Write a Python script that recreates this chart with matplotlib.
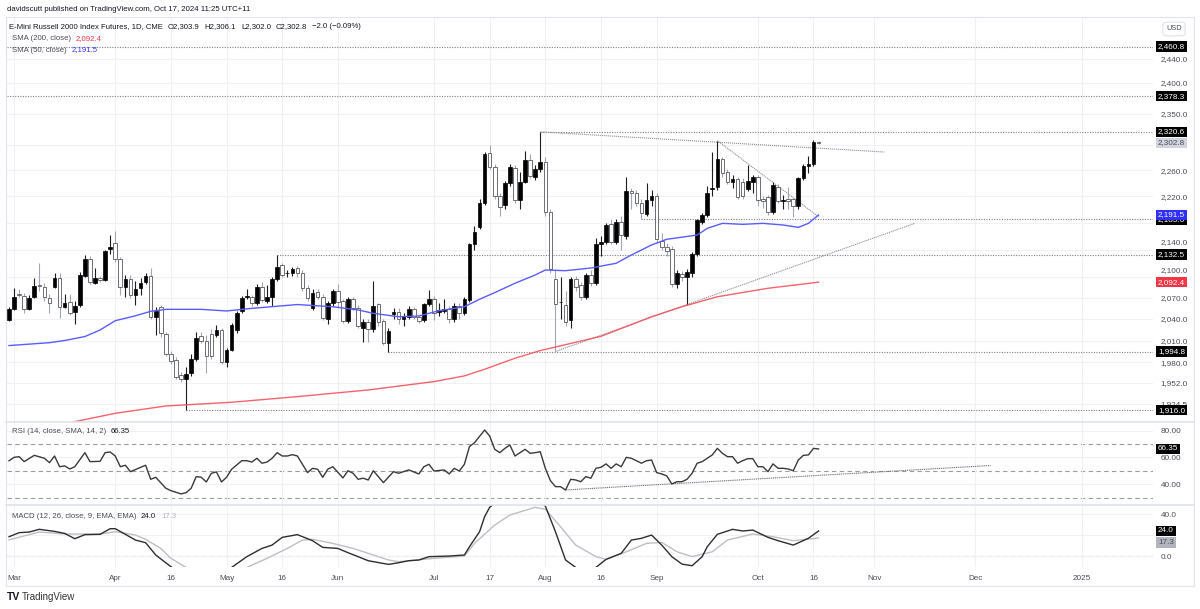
import numpy as np
import pandas as pd
import matplotlib
matplotlib.use("Agg")
import matplotlib.pyplot as plt
import matplotlib.transforms as mtrans
from matplotlib.ticker import FixedLocator, NullLocator, FixedFormatter
from matplotlib.lines import Line2D
from matplotlib.patches import Rectangle

plt.rcParams['font.family'] = ['Liberation Sans', 'DejaVu Sans']

# ---------------- data ----------------
holidays = ['2024-03-29', '2024-05-27', '2024-06-19', '2024-07-04', '2024-09-02',
            '2024-11-28', '2024-12-25', '2025-01-01']
start_date = '2024-02-29'

opens = [2038.6, 2053.6, 2075.8, 2073.0, 2053.6, 2070.6, 2088.0, 2086.0, 2070.1, 2086.0,
         2098.1, 2057.3, 2063.6, 2049.4, 2059.2, 2101.9, 2125.6, 2091.7, 2098.6, 2095.6,
         2140.3, 2149.2, 2125.6, 2086.0, 2097.5, 2074.4, 2084.6, 2092.7, 2101.9, 2043.2,
         2057.3, 2019.1, 1991.4, 1983.2, 1962.4, 1957.0, 1965.1, 1984.6, 2016.3, 2009.8,
         2019.0, 2017.7, 2024.6, 1981.0, 1996.9, 2024.6, 2050.8, 2071.5, 2071.5, 2063.0,
         2086.0, 2065.9, 2071.5, 2096.6, 2117.3, 2105.0, 2105.3, 2112.5, 2105.2, 2083.6,
         2055.9, 2077.9, 2070.6, 2039.9, 2063.0, 2080.2, 2065.4, 2037.2, 2068.2, 2055.0,
         2027.0, 2035.3, 2026.0, 2060.7, 2037.2, 2007.0, 2046.5, 2049.4, 2039.5, 2043.2,
         2053.6, 2042.3, 2038.6, 2060.7, 2068.2, 2050.3, 2051.7, 2054.4, 2039.9, 2058.3,
         2047.9, 2066.9, 2148.2, 2173.9, 2209.1, 2286.6, 2265.7, 2220.4, 2206.6, 2240.0,
         2263.1, 2214.2, 2242.5, 2276.1, 2250.2, 2261.6, 2272.5, 2195.9, 2097.5, 2063.5,
         2059.7, 2038.6, 2096.6, 2088.4, 2071.5, 2102.8, 2091.7, 2148.2, 2151.6, 2177.4,
         2151.6, 2180.4, 2159.9, 2228.1, 2225.5, 2210.1, 2192.9, 2214.2, 2220.4, 2153.0,
         2144.2, 2140.3, 2089.8, 2104.2, 2100.3, 2105.2, 2133.5, 2181.4, 2191.4, 2231.0,
         2234.8, 2277.2, 2257.0, 2242.5, 2246.1, 2242.2, 2230.7, 2242.5, 2249.2, 2215.3,
         2218.4, 2196.4, 2234.8, 2212.7, 2215.3, 2215.3, 2205.0, 2247.6, 2266.7, 2269.4,
         2303.9]
highs = [2057.3, 2083.6, 2082.0, 2076.4, 2074.0, 2099.0, 2120.7, 2090.8, 2076.0, 2105.0,
         2105.3, 2076.0, 2075.4, 2065.9, 2107.6, 2131.9, 2130.5, 2112.5, 2102.0, 2139.3,
         2161.4, 2166.9, 2129.5, 2102.8, 2102.8, 2094.2, 2099.0, 2106.1, 2113.4, 2057.3,
         2059.7, 2022.0, 1996.0, 1987.8, 1967.0, 1974.1, 1992.0, 2022.3, 2022.3, 2017.7,
         2026.0, 2031.2, 2028.0, 2000.0, 2034.0, 2051.0, 2073.0, 2083.0, 2074.0, 2090.0,
         2092.0, 2088.4, 2100.0, 2132.5, 2120.0, 2110.0, 2114.0, 2116.0, 2110.0, 2088.0,
         2083.0, 2082.0, 2075.0, 2066.0, 2083.0, 2090.0, 2068.0, 2071.0, 2071.0, 2060.0,
         2040.0, 2040.0, 2094.5, 2063.0, 2040.0, 2027.0, 2056.0, 2055.0, 2048.0, 2058.0,
         2057.0, 2045.0, 2063.0, 2081.0, 2072.0, 2062.0, 2068.0, 2058.0, 2062.0, 2062.0,
         2071.0, 2150.0, 2175.0, 2215.0, 2288.0, 2300.0, 2270.0, 2225.0, 2244.0, 2270.0,
         2268.0, 2258.0, 2290.0, 2285.0, 2268.0, 2320.6, 2280.0, 2200.0, 2112.0, 2100.0,
         2080.0, 2100.0, 2102.0, 2092.0, 2106.0, 2110.0, 2157.0, 2160.0, 2180.0, 2185.0,
         2185.0, 2190.0, 2250.0, 2232.0, 2230.0, 2215.0, 2240.0, 2230.0, 2225.0, 2165.0,
         2150.0, 2145.0, 2110.0, 2108.0, 2112.0, 2137.0, 2186.0, 2195.0, 2235.0, 2288.2,
         2306.5, 2280.0, 2262.0, 2252.0, 2250.0, 2248.0, 2268.3, 2253.0, 2252.0, 2220.0,
         2222.0, 2242.0, 2238.0, 2222.0, 2234.0, 2218.0, 2250.0, 2270.0, 2282.0, 2308.0,
         2306.1]
lows = [2037.6, 2052.0, 2071.0, 2047.9, 2052.0, 2069.0, 2080.0, 2066.0, 2047.9, 2084.0,
        2040.9, 2055.0, 2046.0, 2033.0, 2057.0, 2100.0, 2090.0, 2090.0, 2093.0, 2094.0,
        2133.0, 2122.0, 2074.0, 2071.5, 2070.0, 2059.7, 2074.0, 2090.0, 2040.0, 2017.7,
        2015.0, 1988.0, 1978.0, 1957.0, 1953.0, 1916.0, 1962.0, 1982.0, 2006.0, 1966.0,
        1985.0, 2015.0, 1978.0, 1974.1, 1995.0, 2020.0, 2048.0, 2068.0, 2058.0, 2060.0,
        2064.0, 2063.0, 2058.3, 2094.0, 2100.0, 2100.0, 2102.0, 2100.0, 2080.0, 2066.0,
        2052.0, 2068.0, 2038.0, 2033.0, 2058.0, 2055.0, 2034.0, 2035.0, 2052.0, 2027.0,
        2008.0, 2008.0, 2022.0, 2030.0, 2004.0, 1994.8, 2040.0, 2033.0, 2030.0, 2040.0,
        2040.0, 2034.0, 2036.0, 2058.0, 2038.6, 2044.0, 2049.0, 2034.0, 2036.0, 2040.0,
        2045.0, 2064.0, 2140.0, 2170.0, 2207.0, 2262.0, 2215.0, 2190.0, 2200.0, 2236.0,
        2210.0, 2200.0, 2240.0, 2248.0, 2245.0, 2258.0, 2190.0, 2105.0, 1994.8, 2040.0,
        2030.0, 2027.0, 2080.0, 2067.0, 2068.0, 2087.0, 2088.0, 2130.0, 2148.0, 2148.0,
        2148.0, 2140.0, 2155.0, 2200.0, 2205.0, 2185.0, 2190.0, 2205.0, 2150.0, 2140.0,
        2130.0, 2086.0, 2083.6, 2094.0, 2059.7, 2100.0, 2131.0, 2178.0, 2188.0, 2220.0,
        2230.0, 2250.0, 2238.0, 2232.0, 2215.0, 2216.0, 2228.0, 2225.0, 2205.0, 2202.0,
        2192.0, 2193.0, 2210.0, 2200.0, 2200.0, 2188.9, 2200.0, 2245.0, 2255.0, 2266.0,
        2302.0]
closes = [2053.6, 2071.5, 2074.6, 2054.4, 2070.1, 2087.0, 2087.0, 2071.1, 2062.1, 2098.1,
          2057.3, 2063.0, 2048.9, 2058.7, 2102.4, 2125.6, 2092.3, 2098.6, 2095.6, 2138.3,
          2144.2, 2125.6, 2086.0, 2096.6, 2074.4, 2082.2, 2090.8, 2101.4, 2043.2, 2051.3,
          2020.0, 1991.4, 1982.3, 1960.5, 1957.8, 1963.7, 1984.6, 2014.0, 2009.3, 1989.1,
          1989.0, 2024.6, 1981.0, 1996.9, 2031.2, 2047.9, 2070.1, 2072.3, 2063.0, 2086.0,
          2066.9, 2071.5, 2096.6, 2114.9, 2102.4, 2105.6, 2111.5, 2105.3, 2083.6, 2069.2,
          2077.4, 2070.6, 2040.9, 2063.0, 2080.2, 2064.4, 2037.2, 2068.2, 2055.0, 2030.2,
          2036.2, 2026.0, 2058.7, 2036.2, 2007.0, 2023.6, 2050.3, 2039.5, 2044.2, 2053.6,
          2043.2, 2037.6, 2061.2, 2068.2, 2048.9, 2052.7, 2054.0, 2039.5, 2058.3, 2047.9,
          2068.2, 2148.2, 2166.4, 2209.1, 2285.1, 2264.7, 2220.4, 2203.0, 2241.0, 2264.7,
          2214.2, 2242.5, 2276.1, 2251.3, 2262.6, 2273.5, 2196.4, 2111.0, 2061.2, 2064.4,
          2036.2, 2096.6, 2086.0, 2070.6, 2102.8, 2090.8, 2148.2, 2151.6, 2176.4, 2151.6,
          2180.4, 2161.4, 2228.1, 2225.5, 2210.1, 2194.9, 2214.2, 2220.4, 2155.1, 2144.2,
          2138.3, 2089.8, 2106.1, 2099.3, 2107.6, 2133.5, 2183.9, 2191.4, 2225.0, 2232.3,
          2277.2, 2255.4, 2242.5, 2246.1, 2219.4, 2220.4, 2243.5, 2250.2, 2214.2, 2212.7,
          2196.4, 2237.4, 2213.2, 2213.7, 2212.7, 2205.0, 2247.6, 2266.7, 2269.9, 2304.8,
          2302.8]

# moving averages read at selected bars (bar = trading-day number from 2024-02-29)
sma50_bar = [0, 8, 11, 15, 18, 21, 25, 28, 31, 38, 43, 48, 57, 64, 69, 72, 77, 81, 85, 90,
             93, 96, 100, 104, 106, 110, 115, 120, 123, 127, 130, 136, 138, 141, 145, 149,
             153, 156, 158, 160]
sma50_val = [2003.0, 2007.0, 2010.0, 2015.5, 2024.6, 2037.6, 2044.5, 2050.8, 2053.6, 2053.6,
             2051.3, 2055.0, 2060.4, 2057.3, 2052.7, 2048.0, 2043.2, 2044.2, 2051.7, 2057.3,
             2067.9, 2077.4, 2090.8, 2102.8, 2110.0, 2109.0, 2112.9, 2119.8, 2131.9, 2146.7,
             2155.1, 2161.4, 2171.4, 2178.9, 2177.4, 2178.9, 2176.4, 2172.9, 2178.9, 2191.5]
sma200_bar = [11, 21, 31, 44, 57, 71, 84, 90, 94, 100, 105, 110, 117, 127, 133, 140, 150, 160]
sma200_val = [1898.0, 1911.7, 1921.4, 1926.3, 1933.8, 1942.7, 1953.9, 1961.6, 1970.6, 1985.6,
              1996.1, 2004.3, 2015.8, 2043.2, 2057.3, 2071.5, 2083.6, 2092.4]

rsi_bar = [0, 1, 2, 3, 5, 7, 8, 9, 10, 11, 12, 13, 15, 16, 18, 19, 20, 21, 22, 23, 24, 27, 28,
           29, 31, 32, 34, 35, 36, 37, 38, 39, 40, 41, 42, 43, 44, 46, 47, 48, 49, 50, 51, 52,
           53, 54, 55, 56, 57, 59, 60, 61, 62, 63, 64, 66, 67, 68, 69, 70, 71, 72, 73, 74, 76,
           77, 79, 81, 82, 83, 84, 86, 87, 88, 89, 90, 91, 92, 94, 95, 96, 97, 98, 99, 100, 101,
           102, 103, 104, 105, 106, 107, 108, 109, 110, 111, 112, 113, 114, 115, 116, 117, 118,
           119, 120, 121, 122, 123, 124, 125, 126, 127, 128, 129, 130, 131, 132, 133, 134, 135,
           136, 137, 138, 139, 140, 141, 142, 143, 144, 145, 146, 147, 148, 149, 150, 151, 152,
           153, 154, 155, 156, 157, 158, 159, 160]
rsi_val = [57.5, 60.1, 60.6, 56.9, 61.6, 59.4, 56.1, 61.1, 53.1, 53.7, 51.4, 53.1, 63.6, 56.9,
           57.1, 63.6, 64.1, 61.1, 53.1, 54.2, 49.4, 54.2, 43.7, 45.2, 37.0, 35.2, 32.8, 33.7,
           37.0, 45.7, 45.2, 41.7, 48.2, 49.2, 41.7, 45.2, 51.2, 57.6, 57.6, 56.6, 59.4, 55.7,
           56.6, 59.4, 63.6, 61.1, 61.1, 62.1, 61.1, 48.7, 51.9, 51.2, 45.2, 51.2, 53.1, 44.7,
           50.1, 48.2, 43.7, 44.5, 43.2, 50.1, 45.7, 41.2, 49.4, 48.2, 50.7, 47.7, 53.1, 54.9,
           49.9, 50.7, 47.7, 51.9, 49.9, 54.9, 68.1, 71.0, 80.5, 76.0, 66.1, 63.6, 66.8, 69.3,
           61.1, 63.6, 66.1, 63.1, 63.6, 64.3, 51.9, 42.7, 38.2, 38.2, 35.7, 43.7, 43.2, 41.9,
           45.7, 44.5, 51.9, 52.7, 55.2, 51.9, 55.2, 53.1, 60.1, 59.4, 57.6, 55.7, 57.6, 58.1,
           48.7, 47.7, 46.2, 40.2, 41.9, 41.9, 43.7, 48.2, 55.7, 56.9, 59.4, 61.9, 66.8, 63.1,
           60.6, 60.6, 55.7, 57.6, 59.1, 59.1, 53.1, 53.1, 49.4, 55.2, 51.9, 51.9, 51.4, 50.1,
           58.1, 61.6, 61.9, 66.8, 66.35]

macd_bar = [0, 2, 4, 6, 9, 11, 13, 15, 18, 20, 21, 23, 25, 27, 29, 32, 35, 39, 42, 44, 47, 50,
            52, 54, 57, 60, 62, 65, 67, 69, 71, 75, 77, 79, 81, 83, 87, 90, 91, 93, 94, 95, 97,
            101, 104, 106, 108, 110, 112, 114, 116, 118, 121, 123, 125, 127, 129, 131, 133, 135,
            137, 138, 140, 143, 145, 147, 150, 152, 155, 158, 160]
macd_val = [18.5, 22.4, 23.0, 25.6, 23.6, 21.7, 16.6, 20.5, 20.8, 26.2, 26.2, 20.8, 15.3, 12.8,
            1.0, -10.2, -20.0, -24.0, -15.0, -10.9, -0.6, 7.3, 10.5, 17.9, 20.5, 14.7, 8.3, 7.3,
            3.2, -0.6, -4.5, -8.0, -6.4, -4.5, -3.8, -0.6, 0.0, 1.0, 8.9, 23.3, 37.7, 46.7, 55.0,
            60.0, 55.0, 47.9, 23.3, -3.8, -10.9, -16.0, -10.9, -3.2, 2.6, 15.3, 17.0, 20.1, 10.5,
            -0.6, -7.7, -9.3, -0.6, 8.9, 20.8, 25.6, 24.0, 24.9, 17.9, 14.7, 10.5, 17.0, 24.0]
signal_bar = [0, 6, 11, 18, 21, 25, 27, 30, 32, 35, 41, 47, 51, 55, 58, 60, 64, 68, 72, 75, 77,
              84, 90, 92, 96, 99, 104, 106, 109, 112, 116, 118, 122, 126, 129, 132, 135, 139,
              142, 147, 151, 155, 160]
signal_val = [15.5, 23.0, 21.1, 21.1, 23.3, 20.1, 16.0, 7.3, -2.2, -10.9, -20.0, -10.9, -2.2,
              7.3, 15.3, 16.0, 12.1, 7.3, 1.0, -3.8, -5.4, -2.2, 0.0, 12.1, 29.7, 39.3, 46.7,
              44.8, 28.1, 10.5, -0.6, -3.2, 4.1, 12.1, 13.1, 4.1, -0.6, 4.1, 15.3, 21.1, 18.5,
              14.7, 17.3]

# author drawings
hlines_full = [2460.8, 2378.3]
hlines_from = [('2024-07-31', 2320.6), ('2024-08-28', 2185.0), ('2024-05-15', 2132.5),
               ('2024-06-17', 1994.8), ('2024-04-19', 1916.0)]
trendlines = [(('2024-07-31', 2320.6), ('2024-11-05', 2288.6)),
              (('2024-09-19', 2306.5), ('2024-10-17', 2188.9)),
              (('2024-08-05', 1994.8), ('2024-11-13', 2178.9))]
rsi_trend = (('2024-08-07', 35.75), ('2024-12-05', 54.0))

tick_dates = ['2024-03-01', '2024-04-01', '2024-04-16', '2024-05-01', '2024-05-16', '2024-06-03',
              '2024-07-01', '2024-07-17', '2024-08-01', '2024-08-16', '2024-09-03', '2024-10-01',
              '2024-10-16', '2024-11-01', '2024-12-02', '2025-01-02']
tick_labels = ['Mar', 'Apr', '16', 'May', '16', 'Jun', 'Jul', '17', 'Aug', '16', 'Sep', 'Oct',
               '16', 'Nov', 'Dec', '2025']

price_ticks = [1924.5, 1952, 1980, 2010, 2040, 2070, 2100, 2140, 2180, 2220, 2260, 2300, 2350,
               2400, 2440]
hidden_ticks = [2180, 2300]              # covered by value boxes
nudged_ticks = {2140: 6.5, 2100: 6.0}     # label drawn slightly above its gridline (px)

# ---------------- layout helpers ----------------
W, H = 1200, 609
cbd = pd.offsets.CustomBusinessDay(holidays=holidays)
dates = pd.date_range(start_date, '2025-03-31', freq=cbd)
pos = {d.strftime('%Y-%m-%d'): i for i, d in enumerate(dates)}

fig = plt.figure(figsize=(W / 100, H / 100), dpi=100)
fig.patch.set_facecolor('white')


def fx(px):
    return px / W


def fy(py):
    return 1 - py / H


L, R = 6.7, 1153
ax = fig.add_axes([fx(L), fy(422), (R - L) / W, (422 - 17) / H])
ax_r = fig.add_axes([fx(L), fy(505), (R - L) / W, (505 - 422) / H], sharex=ax)
ax_m = fig.add_axes([fx(L), fy(567), (R - L) / W, (567 - 505) / H], sharex=ax)

GRID = '#eff1f5'
TXT = '#4a4d57'
FS = 5.6
for a in (ax, ax_r, ax_m):
    for s in a.spines.values():
        s.set_visible(False)
    a.set_facecolor('none')
    a.tick_params(length=0, labelsize=FS + 0.3, colors=TXT)
    a.grid(True, color=GRID, lw=0.8, zorder=0)

xt = [pos[d] for d in tick_dates]
ax.set_xlim(-0.455, 226.1)
ax_m.xaxis.set_major_locator(FixedLocator(xt))
ax_m.xaxis.set_major_formatter(FixedFormatter(tick_labels))
ax.tick_params(labelbottom=False)
ax_r.tick_params(labelbottom=False)
ax_m.tick_params(axis='x', pad=5.5)

# ---------------- price pane ----------------
ax.set_yscale('log')
ax.set_ylim(1900.3, 2511.6)
ax.yaxis.set_major_locator(FixedLocator(price_ticks))
ax.yaxis.set_minor_locator(NullLocator())
ptl = ['' if (v in hidden_ticks or v in nudged_ticks) else f'{v:,.1f}' for v in price_ticks]
ax.yaxis.set_major_formatter(FixedFormatter(ptl))
ax.yaxis.tick_right()
ax.tick_params(axis='y', pad=5.5)
for v, dy in nudged_ticks.items():
    tr = mtrans.blended_transform_factory(fig.transFigure, ax.transData) + \
        mtrans.ScaledTranslation(0, dy / 100, fig.dpi_scale_trans)
    fig.text(fx(1160.6), v, f'{v:,.1f}', transform=tr, ha='left', va='center',
             fontsize=FS + 0.3, color=TXT)

o = np.array(opens); h = np.array(highs); l = np.array(lows); c = np.array(closes)
xb = np.arange(len(c))
up = c >= o
ax.vlines(xb[up], l[up], h[up], colors='#1e1e1e', lw=0.8, zorder=3)
ax.vlines(xb[~up], l[~up], h[~up], colors='#a3a6ae', lw=0.8, zorder=3)
bot = np.minimum(o, c)
hgt = np.maximum(np.abs(c - o), 0.3)
ax.bar(xb[up], hgt[up], bottom=bot[up], width=0.72, color='#000000', edgecolor='#000000',
       lw=0.5, zorder=4)
ax.bar(xb[~up], hgt[~up], bottom=bot[~up], width=0.72, color='white', edgecolor='#55585f',
       lw=0.6, zorder=4)

ax.plot(sma50_bar, sma50_val, color='#5a5cff', lw=1.0, zorder=5)
ax.plot(sma200_bar, sma200_val, color='#f5525d', lw=1.0, alpha=0.9, zorder=5)

DOT = dict(color='#7d7f86', lw=0.8, ls=(0, (1, 1.3)), zorder=2)
for v in hlines_full:
    ax.axhline(v, **DOT)
for d, v in hlines_from:
    ax.plot([pos[d], 226.1], [v, v], **DOT)
for (d0, v0), (d1, v1) in trendlines:
    ax.plot([pos[d0], pos[d1]], [v0, v1], color='#8e9096', lw=0.8, ls=(0, (1, 0.8)), zorder=2)

# ---------------- RSI pane ----------------
ax_r.set_ylim(24.5, 86.5)
ax_r.yaxis.set_major_locator(FixedLocator([40, 60, 80]))
ax_r.yaxis.set_major_formatter(FixedFormatter(['40.00', '60.00', '80.00']))
ax_r.yaxis.tick_right()
ax_r.tick_params(axis='y', pad=5.5)
for v in (30, 50, 70):
    ax_r.axhline(v, color='#9a9ca2', lw=0.8, ls=(0, (4, 3)), zorder=1)
ax_r.plot(rsi_bar, rsi_val, color='#3a3a3a', lw=1.0, zorder=4)
(d0, v0), (d1, v1) = rsi_trend
ax_r.plot([pos[d0], pos[d1]], [v0, v1], color='#707278', lw=0.8, ls=(0, (1, 0.7)), zorder=3)

# ---------------- MACD pane ----------------
ax_m.set_ylim(-10.5, 48.9)
ax_m.yaxis.set_major_locator(FixedLocator([0, 20, 40]))
ax_m.yaxis.set_major_formatter(FixedFormatter(['0.0', '', '40.0']))
ax_m.yaxis.tick_right()
ax_m.tick_params(axis='y', pad=5.5)
ax_m.axhline(0, color='#9a9ca2', lw=0.8, ls=(0, (4, 3)), zorder=1)
ax_m.plot(signal_bar, signal_val, color='#bdbfc4', lw=1.0, zorder=3)
ax_m.plot(macd_bar, macd_val, color='#2e2e2e', lw=1.0, zorder=4)

# ---------------- right-hand value boxes ----------------
def vbox(axis, value, text, fc, tc='white'):
    tr = mtrans.blended_transform_factory(fig.transFigure, axis.transData)
    fig.text(fx(1158), value, text, transform=tr, ha='left', va='center', fontsize=FS + 0.3,
             color=tc, bbox=dict(boxstyle='square,pad=0.22', fc=fc, ec='none'), zorder=10)

vbox(ax, 2460.8, '2,460.8', '#000000')
vbox(ax, 2378.3, '2,378.3', '#000000')
vbox(ax, 2320.6, '2,320.6', '#000000')
vbox(ax, 2302.8, '2,302.8', '#d1d4dc', TXT)
vbox(ax, 2185.0, '2,185.0', '#000000')
vbox(ax, 2191.5, '2,191.5', '#2f2fff')
vbox(ax, 2132.5, '2,132.5', '#000000')
vbox(ax, 2092.4, '2,092.4', '#f23645')
vbox(ax, 1994.8, '1,994.8', '#000000')
vbox(ax, 1916.0, '1,916.0', '#000000')
vbox(ax_r, 66.35, '66.35', '#000000')
vbox(ax_m, 24.0, '24.0', '#000000')
vbox(ax_m, 12.8, '17.3', '#b2b5be', TXT)

# ---------------- frame ----------------
FR = '#e0e3eb'
fig.add_artist(Rectangle((fx(6), fy(586)), (1194 - 6) / W, (586 - 17) / H,
                         transform=fig.transFigure, fill=False, ec=FR, lw=0.8))
for yy in (422, 505):
    fig.add_artist(Line2D([fx(6), fx(1194)], [fy(yy), fy(yy)], color=FR, lw=1.2))

fig.text(fx(1174), fy(29), 'USD', ha='center', va='center', fontsize=FS - 0.3, color=TXT,
         bbox=dict(boxstyle='round,pad=0.45', fc='white', ec=FR, lw=0.8))

# ---------------- texts (legend pieces placed one after another) ----------------
renderer = fig.canvas.get_renderer()


def chain(x_px, y_px, parts, gap_px=5):
    x = x_px
    for txt, col in parts:
        t = fig.text(fx(x), fy(y_px), txt, fontsize=FS, color=col, va='center')
        bb = t.get_window_extent(renderer=renderer)
        x = x + bb.width + gap_px


fig.text(fx(7), fy(9.5), 'davidscutt published on TradingView.com, Oct 17, 2024 11:25 UTC+11',
         fontsize=FS, color='#131722', va='center')
chain(9, 27, [('E-Mini Russell 2000 Index Futures, 1D, CME', '#131722'),
              ('O2,303.9', '#131722'), ('H2,306.1', '#131722'), ('L2,302.0', '#131722'),
              ('C2,302.8', '#131722'), ('\u22122.0 (\u22120.09%)', '#131722')])
chain(11.5, 39, [('SMA (200, close)', TXT), ('2,092.4', '#f23645')])
chain(11.5, 50, [('SMA (50, close)', TXT), ('2,191.5', '#2f2fff')])
chain(11.5, 431.5, [('RSI (14, close, SMA, 14, 2)', TXT), ('66.35', '#131722')])
chain(11.5, 516, [('MACD (12, 26, close, 9, EMA, EMA)', TXT), ('24.0', '#131722'),
                  ('17.3', '#b2b5be')])

fig.text(fx(7), fy(597), 'TV', fontsize=7.5, fontweight='bold', color='#131722', va='center')
fig.text(fx(22), fy(597), 'TradingView', fontsize=7.0, color='#333333', va='center')

fig.savefig('out.png', dpi=100, facecolor='white')
